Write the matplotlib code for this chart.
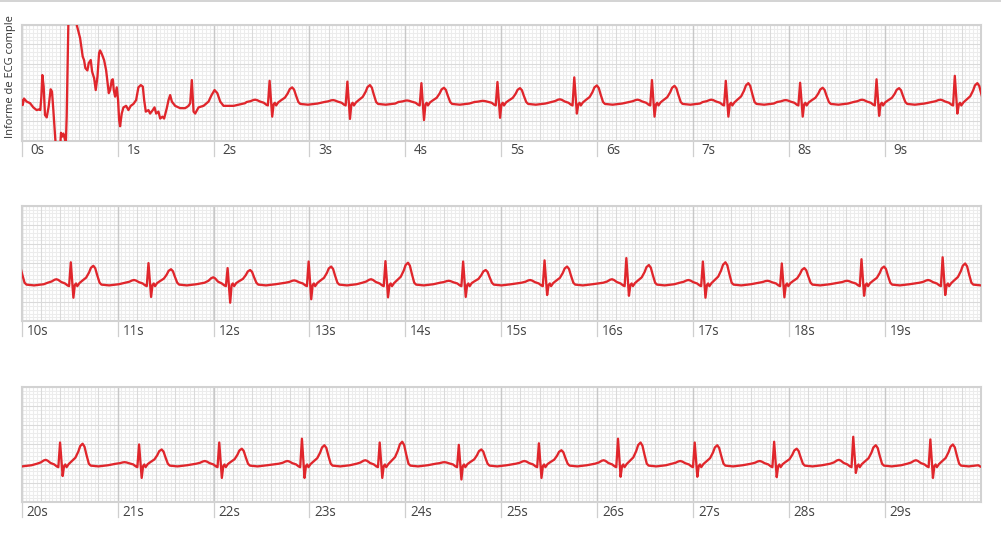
import numpy as np
import matplotlib
matplotlib.use('Agg')
import matplotlib.pyplot as plt
from matplotlib.transforms import Bbox, TransformedBbox

# ---- data read from the strip (time in s, amplitude in mV) ----
# start of recording: electrode artefact + first beat, traced point by point
noise_t = [0.000, 0.010, 0.024, 0.052, 0.087, 0.121, 0.156, 0.184, 0.194, 0.205,
           0.215, 0.229, 0.243, 0.261, 0.281, 0.302, 0.316, 0.330, 0.351, 0.370,
           0.400, 0.410, 0.421, 0.435, 0.452, 0.460, 0.469, 0.487, 0.520, 0.574,
           0.609, 0.636, 0.650, 0.664, 0.685, 0.699, 0.720, 0.734, 0.755, 0.772,
           0.790, 0.807, 0.817, 0.835, 0.859, 0.880, 0.894, 0.908, 0.922, 0.939,
           0.950, 0.960, 0.974, 0.991, 1.005, 1.016, 1.026, 1.043, 1.061, 1.089,
           1.113, 1.137, 1.165, 1.193, 1.217, 1.242, 1.263, 1.277, 1.294, 1.322,
           1.339, 1.367, 1.385, 1.402, 1.426, 1.444, 1.468, 1.485, 1.513, 1.531,
           1.548, 1.566, 1.600, 1.652, 1.705, 1.740, 1.757, 1.774, 1.792, 1.809,
           1.844, 1.896, 1.948, 1.980, 2.011, 2.040, 2.070, 2.105, 2.210, 2.330]
noise_v = [0.05, -0.08, 0.09, 0.01, -0.03, -0.14, -0.21, -0.19, -0.21, 0.14,
           0.70, 0.40, -0.34, -0.40, -0.12, 0.33, 0.27, -0.21, -0.99, -1.30,
           -1.20, -0.80, -0.90, -0.82, -0.99, -1.10, -0.38, 2.10, 2.60, 2.00,
           1.66, 1.18, 1.09, 0.88, 0.82, 1.01, 1.09, 0.79, 0.62, 0.31,
           0.66, 1.27, 1.34, 1.25, 1.09, 0.83, 0.53, 0.23, 0.31, 0.57,
           0.59, 0.31, 0.14, 0.38, 0.05, -0.47, -0.63, -0.30, -0.14, -0.10,
           -0.21, -0.10, -0.05, 0.05, 0.38, 0.44, 0.40, 0.05, -0.25, -0.21,
           -0.30, -0.21, -0.14, -0.30, -0.25, -0.43, -0.38, -0.43, -0.16, 0.05,
           0.18, 0.01, -0.10, -0.16, -0.16, -0.10, -0.03, 0.57, -0.25, -0.30,
           -0.14, -0.10, 0.01, 0.18, 0.31, 0.23, 0.01, -0.10, -0.10, -0.03]

# regular beats: R-peak time and P / R / S / T amplitudes
r_time = [2.585, 3.396, 4.168, 4.961, 5.762, 6.572, 7.342, 8.117, 8.914, 9.730,
          10.512, 11.322, 12.147, 12.992, 13.793, 14.603, 15.452, 16.305, 17.103, 17.926,
          18.757, 19.603, 20.400, 21.224, 22.060, 22.922, 23.733, 24.558, 25.393, 26.218,
          27.018, 27.846, 28.671, 29.475]
p_amp = [0.06, 0.05, 0.04, 0.03, 0.07, 0.06, 0.06, 0.05, 0.06, 0.06,
         0.09, 0.07, 0.14, 0.06, 0.09, 0.05, 0.07, 0.09, 0.07, 0.05,
         0.05, 0.07, 0.10, 0.04, 0.07, 0.07, 0.09, 0.04, 0.07, 0.09,
         0.07, 0.07, 0.10, 0.09]
r_amp = [0.55, 0.53, 0.49, 0.52, 0.64, 0.57, 0.55, 0.50, 0.59, 0.68,
         0.53, 0.51, 0.38, 0.55, 0.56, 0.55, 0.58, 0.64, 0.55, 0.50,
         0.61, 0.66, 0.55, 0.50, 0.55, 0.65, 0.55, 0.49, 0.53, 0.65,
         0.55, 0.57, 0.70, 0.63]
s_amp = [-0.38, -0.44, -0.47, -0.41, -0.30, -0.38, -0.38, -0.38, -0.36, -0.30,
         -0.39, -0.37, -0.52, -0.43, -0.38, -0.37, -0.32, -0.34, -0.39, -0.38,
         -0.34, -0.32, -0.32, -0.37, -0.37, -0.37, -0.37, -0.41, -0.37, -0.34,
         -0.34, -0.35, -0.24, -0.37]
t_amp = [0.38, 0.44, 0.37, 0.36, 0.43, 0.42, 0.49, 0.37, 0.36, 0.49,
         0.44, 0.35, 0.33, 0.42, 0.52, 0.33, 0.42, 0.46, 0.53, 0.38,
         0.42, 0.50, 0.52, 0.37, 0.39, 0.48, 0.57, 0.37, 0.35, 0.55,
         0.48, 0.39, 0.48, 0.50]

# shape of one beat as seen on the strip: offset from R (s), wave, fraction
beat_dt = [-0.24, -0.20, -0.17, -0.15, -0.13, -0.10, -0.06, -0.035, -0.018, 0.0,
           0.027, 0.042, 0.055, 0.068, 0.09, 0.12, 0.16, 0.19, 0.21, 0.235,
           0.255, 0.275, 0.30, 0.32, 0.40, 0.50]
beat_wave = ['b', 'P', 'P', 'P', 'P', 'P', 'b', 'b', 'b', 'R',
             'S', 'b', 'b', 'b', 'b', 'T', 'T', 'T', 'T', 'T',
             'T', 'T', 'b', 'b', 'b', 'b']
beat_frac = [0.0, 0.35, 0.85, 1.0, 0.8, 0.2, -0.02, -0.07, -0.09, 1.0,
             1.0, -0.06, -0.02, -0.09, -0.01, 0.12, 0.3, 0.6, 0.88, 1.0,
             0.85, 0.45, 0.0, -0.05, -0.07, -0.04]

end_t = [30.0]
end_v = [-0.08]

row_start = [0, 10, 20]

# ---- build the trace ----
trace_t = list(noise_t)
trace_v = list(noise_v)
for i, tr in enumerate(r_time):
    amps = {'b': 1.0, 'P': p_amp[i], 'R': r_amp[i], 'S': s_amp[i], 'T': t_amp[i]}
    for dt, w, f in zip(beat_dt, beat_wave, beat_frac):
        trace_t.append(tr + dt)
        trace_v.append(amps[w] * f)
trace_t += end_t
trace_v += end_v

W, H = 1001, 533
fig = plt.figure(figsize=(W / 100, H / 100), dpi=100)

left = 21.7 / W
width = 959.0 / W
tops = [25.0, 205.7, 386.7]
ph = 115.5

for r, t0 in enumerate(row_start):
    ax = fig.add_axes([left, 1 - (tops[r] + ph) / H, width, ph / H])
    ax.set_xlim(t0, t0 + 10)
    ax.set_ylim(-1.0, 2.0)
    # ECG paper grid
    ax.vlines(np.arange(t0, t0 + 10.001, 0.04), -1, 2, color='#ececec', lw=0.75, zorder=0)
    ax.hlines(np.arange(-1, 2.001, 0.1), t0, t0 + 10, color='#ececec', lw=0.75, zorder=0)
    ax.vlines(np.arange(t0, t0 + 10.001, 0.2), -1, 2, color='#dadada', lw=0.75, zorder=1)
    ax.hlines(np.arange(-1, 2.001, 0.5), t0, t0 + 10, color='#dadada', lw=0.75, zorder=1)
    ax.vlines(np.arange(t0, t0 + 10.001, 1.0), -1, 2, color='#c8c8c8', lw=1.0, zorder=1)
    ax.plot(trace_t, trace_v, color='#e0262c', lw=1.65, zorder=3,
            solid_joinstyle='round', solid_capstyle='round')
    for sp in ax.spines.values():
        sp.set_color('#d2d2d2')
        sp.set_linewidth(1.5)
    ax.set_xticks([])
    ax.set_yticks([])
    # second marks under the strip
    xt = ax.get_xaxis_transform()
    for s in range(t0, t0 + 10):
        ax.plot([s, s], [0, -15 / ph], transform=xt, color='#cfcfcf', lw=0.9,
                clip_on=False)
        ax.text(s + 0.165, -10.5 / ph, f'{s}s', transform=xt, ha='center', va='center',
                fontsize=9.75, family='Open Sans', color='#444444')

# title on the left, cut at the top like in the original
lab = fig.text(10.5 / W, 1 - 138 / H, 'Informe de ECG completo', rotation=90,
               ha='center', va='bottom', fontsize=8.0, family='Open Sans', color='#333333')
lab.set_clip_box(TransformedBbox(Bbox([[0, 0], [1, 1 - 16 / H]]), fig.transFigure))
lab.set_clip_on(True)

fig.add_artist(plt.Line2D([0, 1], [1 - 0.7 / H, 1 - 0.7 / H], transform=fig.transFigure,
                          color='#cccccc', lw=1.2))

fig.savefig('out.png', dpi=100)
